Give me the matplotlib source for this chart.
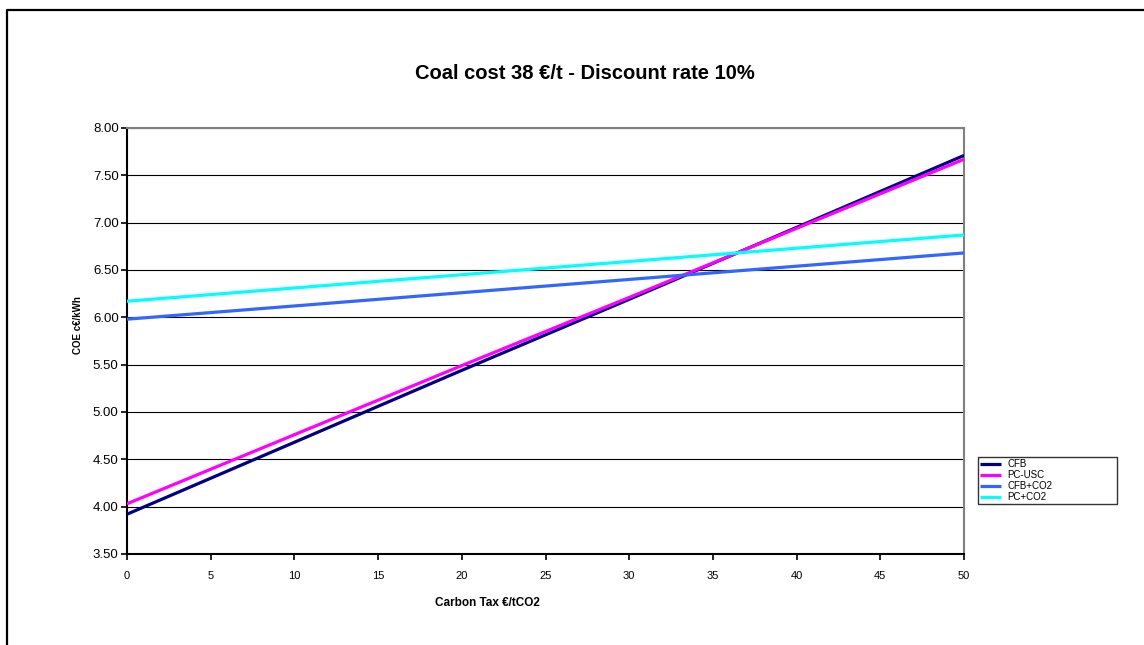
import numpy as np
import matplotlib.pyplot as plt
from matplotlib.lines import Line2D

plt.rcParams['font.family'] = ['Liberation Sans', 'DejaVu Sans']

# carbon tax (EUR/tCO2) and cost of electricity (c EUR/kWh)
tax = [0, 10, 20, 30, 40, 50]
cfb = [3.92, 4.68, 5.44, 6.19, 6.95, 7.71]
pc_usc = [4.03, 4.76, 5.49, 6.21, 6.94, 7.67]
cfb_co2 = [5.98, 6.12, 6.26, 6.40, 6.54, 6.68]
pc_co2 = [6.17, 6.31, 6.45, 6.59, 6.73, 6.87]

names = ["CFB", "PC-USC", "CFB+CO2", "PC+CO2"]
colors = ["#000080", "#FF00FF", "#3366FF", "#00FFFF"]
series = [cfb, pc_usc, cfb_co2, pc_co2]

fig = plt.figure(figsize=(11.44, 6.45), dpi=100)
ax = fig.add_axes([0.111, 0.1411, 0.7317, 0.6605])

for yv in np.arange(4.0, 8.01, 0.5):
    ax.axhline(yv, color="black", lw=0.8, zorder=1)

for s, name, c in zip(series, names, colors):
    ax.plot(tax, s, color=c, lw=2.3, label=name, zorder=3, solid_capstyle="butt")

ax.set_xlim(0, 50)
ax.set_ylim(3.5, 8.0)
ax.set_xticks(np.arange(0, 51, 5))
ax.set_yticks(np.arange(3.5, 8.01, 0.5))
ax.set_yticklabels(["%.2f" % v for v in np.arange(3.5, 8.01, 0.5)])
ax.tick_params(direction="out", length=4, width=1.2, colors="black")
ax.tick_params(axis="y", labelsize=9.5, pad=2)
ax.tick_params(axis="x", labelsize=8, pad=8)

for side in ["left", "bottom"]:
    ax.spines[side].set_color("black")
    ax.spines[side].set_linewidth(1.5)
for side in ["top", "right"]:
    ax.spines[side].set_color("#808080")
    ax.spines[side].set_linewidth(1.5)

ax.set_ylabel("COE c€/kWh", fontsize=7, fontweight="bold")
ax.yaxis.set_label_coords(-0.052, 0.537)
fig.text(0.4257, 0.065, "Carbon Tax €/tCO2", ha="center", va="center",
         fontsize=8.5, fontweight="bold")
fig.text(0.511, 0.886, "Coal cost 38 €/t - Discount rate 10%", ha="center", va="center",
         fontsize=14.5, fontweight="bold")

leg = fig.legend(loc="upper left", bbox_to_anchor=(0.855, 0.22, 0.121, 0.0715),
                 mode="expand", fontsize=7, frameon=True, fancybox=False,
                 edgecolor="black", handlelength=2.2, handletextpad=0.6,
                 labelspacing=0.12, borderpad=0.2, borderaxespad=0)
leg.get_frame().set_linewidth(1.0)

# outer chart border
fig.add_artist(Line2D([0.0061, 0.0061, 1.0], [0.0, 0.9845, 0.9845],
                      transform=fig.transFigure, color="black", lw=1.6))

plt.savefig("out.png", dpi=100)
